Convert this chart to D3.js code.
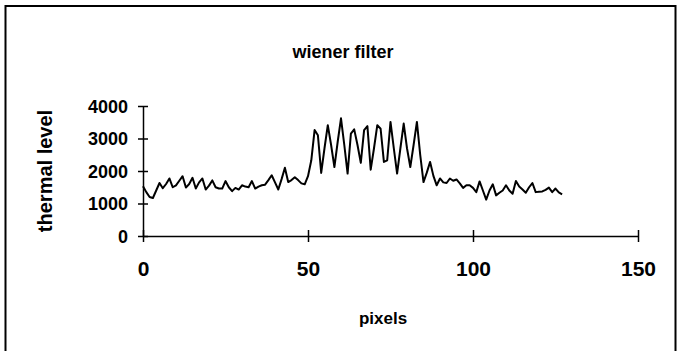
<!DOCTYPE html>
<html>
<head>
<meta charset="utf-8">
<script src="https://cdn.jsdelivr.net/npm/d3@7"></script>
<style>
  body { margin: 0; background: #fff; }
  svg text { font-family: "Liberation Sans", Arial, sans-serif; font-weight: bold; fill: #000; }
</style>
</head>
<body>
<svg id="chart"></svg>
<script>
// thermal level per pixel (wiener filter output)
const thermalLevel = [
  1530, 1350, 1200, 1170, 1400, 1630, 1470, 1600, 1770, 1500,
  1560, 1700, 1840, 1490, 1600, 1790, 1460, 1650, 1770, 1430,
  1550, 1710, 1500, 1460, 1460, 1690, 1500, 1380, 1480, 1430,
  1560, 1520, 1500, 1690, 1460, 1520, 1560, 1580, 1720, 1870,
  1650, 1430, 1750, 2100, 1660, 1720, 1810, 1720, 1620, 1590,
  1840, 2330, 3260, 3100, 1940, 2700, 3410, 2800, 2120, 2900,
  3620, 2800, 1920, 3150, 3280, 2800, 2250, 3260, 3380, 2040,
  2700, 3410, 3300, 2280, 2330, 3510, 2700, 1920, 2700, 3460,
  2700, 2120, 2800, 3510, 2500, 1660, 1950, 2280, 1850, 1560,
  1770, 1650, 1630, 1770, 1700, 1740, 1620, 1480, 1560, 1560,
  1480, 1350, 1680, 1400, 1120, 1400, 1590, 1250, 1330, 1400,
  1560, 1400, 1300, 1690, 1520, 1430, 1330, 1500, 1630, 1350,
  1360, 1370, 1420, 1490, 1350, 1460, 1340, 1280
];
const pixelIndex = thermalLevel.map((d, i) => i);
const xTicks = [0, 50, 100, 150];
const yTicks = [0, 1000, 2000, 3000, 4000];

const width = 679, height = 351;
const margin = { top: 106, right: 41, bottom: 115, left: 143 };

const svg = d3.select('#chart')
  .attr('width', width)
  .attr('height', height);

// outer frame
svg.append('rect')
  .attr('x', 5.5).attr('y', 6)
  .attr('width', 670).attr('height', 350)
  .attr('fill', 'none')
  .attr('stroke', '#000')
  .attr('stroke-width', 2);

const xScale = d3.scaleLinear().domain([0, 150]).range([margin.left, width - margin.right]);
const yScale = d3.scaleLinear().domain([0, 4000]).range([height - margin.bottom, margin.top]);

// x axis with ticks crossing the line
const xAxis = d3.axisBottom(xScale).tickValues(xTicks).tickSize(0).tickFormat(d3.format('d'));
const xAxisG = svg.append('g')
  .attr('transform', `translate(0,${yScale(0)})`)
  .call(xAxis);
xAxisG.select('.domain').attr('stroke', '#000').attr('stroke-width', 1.5);
xAxisG.selectAll('.tick line').attr('y1', -6).attr('y2', 6).attr('stroke', '#000').attr('stroke-width', 1.5);
xAxisG.selectAll('.tick text').attr('y', 25).attr('dy', '0.71em').style('font-size', '21px');

// y axis
const yAxis = d3.axisLeft(yScale).tickValues(yTicks).tickSize(0).tickFormat(d3.format('d'));
const yAxisG = svg.append('g')
  .attr('transform', `translate(${xScale(0)},0)`)
  .call(yAxis);
yAxisG.select('.domain').attr('stroke', '#000').attr('stroke-width', 1.5);
yAxisG.selectAll('.tick line').attr('x1', -5).attr('x2', 5).attr('stroke', '#000').attr('stroke-width', 1.5);
yAxisG.selectAll('.tick text').attr('x', -15).attr('dy', '0.36em').style('font-size', '18px');

// data line
const line = d3.line()
  .x((d, i) => xScale(pixelIndex[i]))
  .y(d => yScale(d));

svg.append('path')
  .datum(thermalLevel)
  .attr('fill', 'none')
  .attr('stroke', '#000')
  .attr('stroke-width', 2)
  .attr('stroke-linejoin', 'round')
  .attr('d', line);

// titles
svg.append('text')
  .attr('x', 343).attr('y', 58)
  .attr('text-anchor', 'middle')
  .style('font-size', '18px')
  .text('wiener filter');

svg.append('text')
  .attr('x', 383).attr('y', 324)
  .attr('text-anchor', 'middle')
  .style('font-size', '17px')
  .text('pixels');

svg.append('text')
  .attr('transform', `translate(52,${yScale(2000)}) rotate(-90)`)
  .attr('text-anchor', 'middle')
  .style('font-size', '20px')
  .text('thermal level');
</script>
</body>
</html>
